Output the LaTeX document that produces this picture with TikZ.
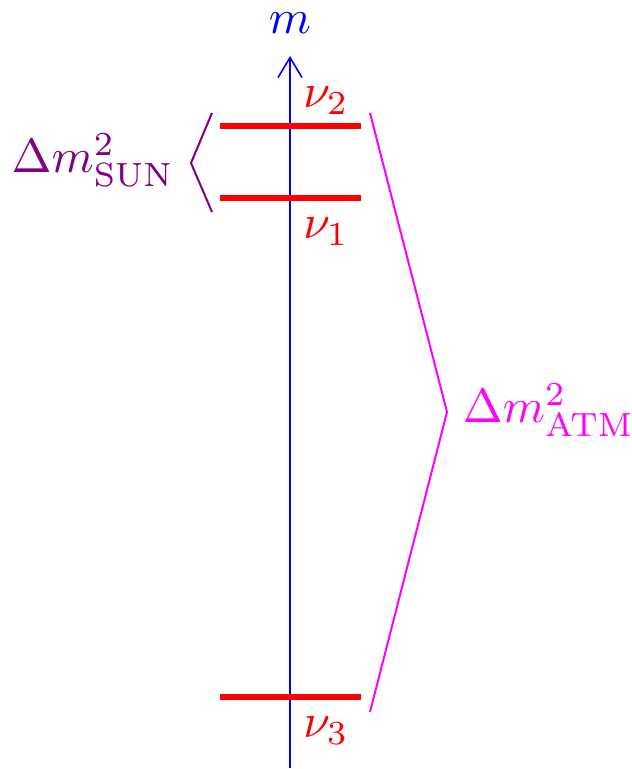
\documentclass[tikz,border=0pt]{standalone}
\usetikzlibrary{arrows.meta}
\definecolor{sunpurple}{rgb}{0.5,0,0.5}
\definecolor{atmmagenta}{rgb}{1,0,1}
\begin{document}
\begin{tikzpicture}[x=1pt,y=-1pt,
  level/.style={red,line width=6pt},
  lbl/.style={inner sep=0pt,scale=4.8},
  bracket/.style={line width=2pt}]
\useasboundingbox (0,0) rectangle (632,769);
% axis
\coordinate (ax0) at (290,768);
\coordinate (ax1) at (290,56);
\draw[blue,line width=2pt,-{Straight Barb[length=20pt,width=24pt,line width=1.6pt]}] (ax0) -- (ax1);
\node[lbl,blue] (m) at (290,23) {$m$};
% levels
\coordinate (l2a) at (220,126); \coordinate (l2b) at (361,126);
\coordinate (l1a) at (220,198); \coordinate (l1b) at (361,198);
\coordinate (l3a) at (220,697); \coordinate (l3b) at (361,697);
\draw[level] (l2a) -- (l2b);
\draw[level] (l1a) -- (l1b);
\draw[level] (l3a) -- (l3b);
\node[lbl,red] (n2) at (326,101) {$\nu_2$};
\node[lbl,red] (n1) at (326,232) {$\nu_1$};
\node[lbl,red] (n3) at (326,731) {$\nu_3$};
% sun bracket
\coordinate (s1) at (212,113); \coordinate (s2) at (191,163); \coordinate (s3) at (212,212);
\draw[bracket,sunpurple] (s1) -- (s2) -- (s3);
\node[lbl,sunpurple,anchor=east] (sun) at (175,160) {$\Delta m^2_{\mathrm{SUN}}$};
% atm bracket
\coordinate (a1) at (370,113); \coordinate (a2) at (447,412); \coordinate (a3) at (370,712);
\draw[bracket,atmmagenta] (a1) -- (a2) -- (a3);
\node[lbl,atmmagenta,anchor=west] (atm) at (462,410) {$\Delta m^2_{\mathrm{ATM}}$};
\end{tikzpicture}
\end{document}
